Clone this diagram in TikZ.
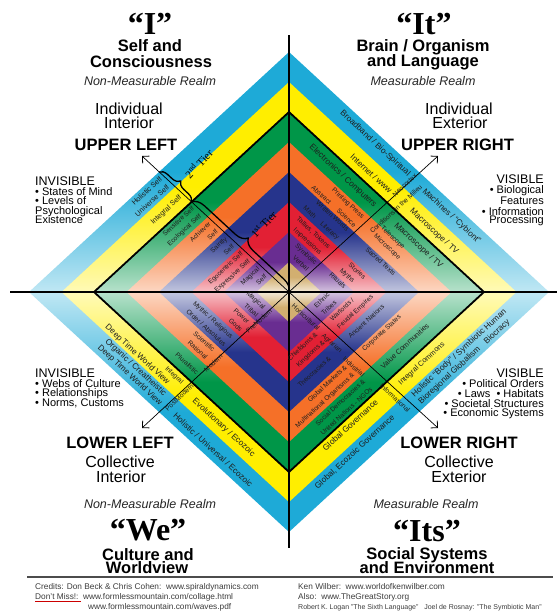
\documentclass[tikz,border=0pt]{standalone}
\usepackage{fontspec}
\setmainfont{Liberation Sans}
\newfontfamily\qfont{Liberation Serif}
\usetikzlibrary{calc,arrows.meta,decorations.pathreplacing}
\definecolor{cA}{RGB}{30,170,215}
\definecolor{cB}{RGB}{255,238,0}
\definecolor{cC}{RGB}{0,150,72}
\definecolor{cD}{RGB}{245,112,40}
\definecolor{cE}{RGB}{38,52,140}
\definecolor{cF}{RGB}{226,32,52}
\definecolor{cG}{RGB}{105,45,145}
\definecolor{cH}{RGB}{210,175,112}
\definecolor{txt}{RGB}{30,30,30}
\definecolor{credit}{RGB}{60,60,60}
\begin{document}
\begin{tikzpicture}[x=1pt,y=-1pt,
  qbig/.style={font=\qfont\bfseries\fontsize{32}{32}\selectfont, anchor=base, inner sep=0pt},
  ttl/.style={font=\bfseries\fontsize{16.5}{16.5}\selectfont, anchor=base, inner sep=0pt},
  realm/.style={font=\itshape\fontsize{12.5}{12.5}\selectfont, anchor=base, inner sep=0pt, text=black!85},
  qtxt/.style={font=\fontsize{16}{16}\selectfont, anchor=base, inner sep=0pt},
  sidetxt/.style={font=\fontsize{11}{11}\selectfont, inner sep=0pt},
  sidehead/.style={font=\fontsize{12.5}{12.5}\selectfont, inner sep=0pt},
  bl/.style={font=\fontsize{6.6}{10.5}\selectfont, text=txt, inner sep=0.5pt},
  bm/.style={font=\fontsize{7.3}{10.5}\selectfont, text=txt, inner sep=0.5pt},
  bL/.style={font=\fontsize{8.3}{10}\selectfont, text=txt, inner sep=0.5pt},
  rotp/.style={rotate=42.7},
  rotm/.style={rotate=-42.7},
  tierlbl/.style={font=\qfont\fontsize{11}{11}\selectfont, rotate=47.3, anchor=west, inner sep=1pt},
  cred/.style={font=\fontsize{8.3}{8.3}\selectfont, text=credit, anchor=base west, inner sep=0pt},
  axisline/.style={line width=2.6pt, black},
  diagarrow/.style={line width=0.7pt, black, -{Straight Barb[length=5pt,width=10pt,line width=0.8pt]}},
]
\useasboundingbox (0,0) rectangle (557,613);
\fill[white] (0,0) rectangle (557,613);
\coordinate (C) at (289,292);
\coordinate (L) at (29,292);
\coordinate (R) at (549,292);
\coordinate (T) at (289,52);
\coordinate (B) at (289,532);
\coordinate (DUL) at (159,172);
\coordinate (DUR) at (419,172);
\coordinate (DLL) at (159,412);
\coordinate (DLR) at (419,412);
% bands
\foreach \k/\col in {0/cA,1/cB,2/cC,3/cD,4/cE,5/cF,6/cG,7/cH}{
  \pgfmathsetmacro\s{1-\k/8}
  \shade[top color=\col, bottom color=\col!28!white, middle color=\col]
    ($(C)!\s!(L)$) -- ($(C)!\s!(T)$) -- ($(C)!\s!(R)$) -- cycle;
  \shade[top color=\col!28!white, bottom color=\col, middle color=\col]
    ($(C)!\s!(L)$) -- ($(C)!\s!(B)$) -- ($(C)!\s!(R)$) -- cycle;
}
% tier outline
\draw[line width=1.8pt] ($(C)!.75!(L)$) -- ($(C)!.75!(T)$) -- ($(C)!.75!(R)$) -- ($(C)!.75!(B)$) -- cycle;
% axes
\coordinate (HL) at (10,292); \coordinate (HR) at (557,292);
\coordinate (VT) at (289,35); \coordinate (VB) at (289,548);
\draw[axisline] (HL) -- (HR);
\draw[axisline] (VT) -- (VB);
% diagonal arrows
\coordinate (AUL) at (142,156); \coordinate (AUR) at (438,156);
\coordinate (ALL) at (142,428); \coordinate (ALR) at (438,428);
\draw[diagarrow] (C) -- (AUL);
\draw[diagarrow] (C) -- (AUR);
\draw[diagarrow] (C) -- (ALL);
\draw[diagarrow] (C) -- (ALR);
% tier braces
\coordinate (D2) at (159,172);
\coordinate (D3) at (191.5,202);
\draw[line width=1.3pt, decorate, decoration={brace, amplitude=8pt}] (D2) -- (D3);
\draw[line width=1.3pt, decorate, decoration={brace, amplitude=12pt}] (D3) -- (C);
\node[tierlbl] (t2) at (186,177) {2\textsuperscript{nd} Tier};
\node[tierlbl] (t1) at (252,237) {1\textsuperscript{st} Tier};

% ---------- UL band labels (end at diagonal)
\node[bm, rotp, anchor=east, align=right] (ul0) at ($(C)!0.9375!(DUL)+3*(-0.735,0.678)$) {Holistic Self\\Universe Self};
\node[bm, rotp, anchor=east] (ul1) at ($(C)!0.8125!(DUL)+3*(-0.735,0.678)$) {Integral Self};
\node[bl, rotp, anchor=east, align=right] (ul2) at ($(C)!0.6875!(DUL)+3*(-0.735,0.678)$) {Sensitive Self\\Ecological Self};
\node[bl, rotp, anchor=east, align=right] (ul3) at ($(C)!0.5625!(DUL)+3*(-0.735,0.678)$) {Achiever\\Self};
\node[bl, rotp, anchor=east, align=right] (ul4) at ($(C)!0.4375!(DUL)+3*(-0.735,0.678)$) {Saintly\\Self};
\node[bl, rotp, anchor=east, align=right] (ul5) at ($(C)!0.3125!(DUL)+3*(-0.735,0.678)$) {Egocentric Self\\Expressive Self};
\node[bl, rotp, anchor=east, align=right] (ul6) at ($(C)!0.1875!(DUL)+3*(-0.735,0.678)$) {Magical\\Self};

% ---------- UR band labels
\node[bL, rotm, anchor=east] (ur0a) at ($(C)!0.95!(DUR)-4*(0.735,0.678)$) {Broadband / Bio-Spiritual};
\node[bL, rotm, anchor=east] (ur1a) at ($(C)!0.81!(DUR)-4*(0.735,0.678)$) {Internet / www};
\node[bL, rotm, anchor=east] (ur2a) at ($(C)!0.69!(DUR)-4*(0.735,0.678)$) {Electronics / Computers};
\node[bl, rotm, anchor=east] (ur3a) at ($(C)!0.595!(DUR)-4*(0.735,0.678)$) {Printing Press};
\node[bl, rotm, anchor=east] (ur3c) at ($(C)!0.53!(DUR)-3*(0.735,0.678)$) {Abstract\quad\ \ Science};
\node[bl, rotm, anchor=east] (ur4a) at ($(C)!0.485!(DUR)-5*(0.735,0.678)$) {Written Words};
\node[bl, rotm, anchor=east] (ur4c) at ($(C)!0.41!(DUR)-5*(0.735,0.678)$) {Math\quad\ Literacy};
\node[bl, rotm, anchor=east] (ur5a) at ($(C)!0.34!(DUR)-5*(0.735,0.678)$) {Tallies, Tokens};
\node[bl, rotm, anchor=east] (ur5c) at ($(C)!0.28!(DUR)-6*(0.735,0.678)$) {Impressions};
\node[bl, rotm, anchor=east] (ur6a) at ($(C)!0.22!(DUR)-2*(0.735,0.678)$) {Symbolic};
\node[bl, rotm, anchor=east] (ur6c) at ($(C)!0.165!(DUR)-3*(0.735,0.678)$) {Verbal};
\node[bL, rotm, anchor=west] (ur0b) at ($(C)!0.94!(DUR)+16*(0.735,0.678)$) {Machines / “Cybiont”};
\node[bL, rotm, anchor=west] (ur1b) at ($(C)!0.81!(DUR)+22*(0.735,0.678)$) {Macroscope / TV};
\node[bL, rotm, anchor=west] (ur2b) at ($(C)!0.69!(DUR)+22*(0.735,0.678)$) {Macroscope / TV};
\node[bl, rotm, anchor=west] (ur3b) at ($(C)!0.625!(DUR)+15*(0.735,0.678)$) {Telescope};
\node[bl, rotm, anchor=west] (ur3d) at ($(C)!0.565!(DUR)+16*(0.735,0.678)$) {Microscope};
\node[bl, rotm, anchor=west] (ur4b) at ($(C)!0.48!(DUR)+20*(0.735,0.678)$) {Sacred Texts};
\node[bl, rotm, anchor=west] (ur5b) at ($(C)!0.35!(DUR)+20*(0.735,0.678)$) {Stories};
\node[bl, rotm, anchor=west] (ur5d) at ($(C)!0.29!(DUR)+18*(0.735,0.678)$) {Myths};
\node[bl, rotm, anchor=west] (ur6b) at ($(C)!0.235!(DUR)+14*(0.735,0.678)$) {Rituals};
\node[bl, rotp] (urd0) at ($(C)!0.89!(DUR)$) {Neocortex};
\node[bl, rotp] (urd1) at ($(C)!0.757!(DUR)+11.7*(0.735,0.678)$) {Conditions in the Milieu};

% ---------- LL band labels
\node[bl, rotm, anchor=east] (ll1a) at ($(C)!0.79!(DLL)-5*(0.735,0.678)$) {Integral};
\node[bL, rotm, anchor=east] (ll1b) at ($(C)!0.845!(DLL)-14*(0.735,0.678)$) {Deep Time World View};
\node[bL, rotm, anchor=east] (ll0a) at ($(C)!0.905!(DLL)-8*(0.735,0.678)$) {Organic / Creatheistic};
\node[bL, rotm, anchor=east] (ll0b) at ($(C)!0.96!(DLL)-4*(0.735,0.678)$) {Deep Time World View};
\node[bl, rotm, anchor=east] (ll2) at ($(C)!0.69!(DLL)-2*(0.735,0.678)$) {Pluralistic};
\node[bl, rotm, anchor=east, align=right] (ll3) at ($(C)!0.5625!(DLL)-7*(0.735,0.678)$) {Scientific\\Rational};
\node[bl, rotm, anchor=east, align=right] (ll4) at ($(C)!0.4375!(DLL)-4*(0.735,0.678)$) {Mythic / Religious\\Order / Absolutes};
\node[bl, rotm, anchor=east, align=right] (ll5) at ($(C)!0.3125!(DLL)-4*(0.735,0.678)$) {Power\\Gods};
\node[bl, rotm, anchor=east, align=right] (ll6) at ($(C)!0.19!(DLL)-4*(0.735,0.678)$) {Magical\\Tribal};
\node[bL, rotm, anchor=west] (ll0c) at ($(C)!0.95!(DLL)+12*(0.735,0.678)$) {Holistic / Universal / Ecozoic};
\node[bL, rotm, anchor=west] (ll1c) at ($(C)!0.817!(DLL)+14*(0.735,0.678)$) {Evolutionary / Ecozoic};
\node[bl, rotp] (lld1) at ($(C)!0.86!(DLL)+3*(0.735,0.678)$) {PostModern};
\node[bl, rotp] (lld2) at ($(C)!0.588!(DLL)+1*(0.735,0.678)$) {Modern};
\node[bl, rotp] (lld3) at ($(C)!0.236!(DLL)+1*(0.735,0.678)$) {PreModern};

% ---------- LR band labels
\node[bL, rotp, anchor=east] (lr0a) at ($(C)!0.92!(DLR)+20*(-0.735,0.678)$) {Global, Ecozoic Governance};
\node[bL, rotp, anchor=east] (lr1a) at ($(C)!0.79!(DLR)+20*(-0.735,0.678)$) {Global Governance};
\node[bl, rotp, anchor=east, align=right] (lr2a) at ($(C)!0.6875!(DLR)+14*(-0.735,0.678)$) {Social Democracies \&\\United Nations - NGOs};
\node[bl, rotp, anchor=east, align=right] (lr3a) at ($(C)!0.5625!(DLR)+16*(-0.735,0.678)$) {Global Markets \&\\Multinational Organisms \&};
\node[bl, rotp, anchor=east] (lr4a) at ($(C)!0.43!(DLR)+20*(-0.735,0.678)$) {Theocracies \&};
\node[bl, rotp, anchor=east, align=right] (lr5a) at ($(C)!0.3125!(DLR)+12*(-0.735,0.678)$) {Chiefdoms \&\\Kingdoms \&};
\node[bL, rotp, anchor=west, align=left] (lr0b) at ($(C)!0.9375!(DLR)+7*(0.735,-0.678)$) {Holistic “Body” / Symbiotic Human\\Bioregional Globalism\quad Biocracy};
\node[bm, rotp, anchor=west] (lr1b) at ($(C)!0.81!(DLR)+7*(0.735,-0.678)$) {Integral Commons};
\node[bm, rotp, anchor=west] (lr2b) at ($(C)!0.67!(DLR)+7*(0.735,-0.678)$) {Value Communities};
\node[bl, rotp, anchor=west] (lr3b) at ($(C)!0.53!(DLR)+7*(0.735,-0.678)$) {Corporate States};
\node[bl, rotp, anchor=west] (lr4b) at ($(C)!0.42!(DLR)+7*(0.735,-0.678)$) {Ancient Nations};
\node[bl, rotp, anchor=west, align=left] (lr5b) at ($(C)!0.31!(DLR)+7*(0.735,-0.678)$) {Warlords /\\Feudal Empires};
\node[bl, rotp, anchor=west, align=left] (lr6b) at ($(C)!0.19!(DLR)+6*(0.735,-0.678)$) {Ethnic\\Tribes};
\node[bl, rotm] (lrd1) at ($(C)!0.85!(DLR)+6*(-0.735,0.678)$) {Informational};
\node[bl, rotm] (lrd2) at ($(C)!0.56!(DLR)+11*(-0.735,0.678)$) {Industrial};
\node[bl, rotm] (lrd3) at ($(C)!0.38!(DLR)+9*(-0.735,0.678)$) {Agrarian};
\node[bl, rotm] (lrd4) at ($(C)!0.17!(DLR)+7*(-0.735,0.678)$) {Horticultural};

% ---------- titles UL
\node[qbig] (qI) at (150,34) {“I”};
\node[ttl] (ul-t1) at (150,51.5) {Self and};
\node[ttl] (ul-t2) at (151,67) {Consciousness};
\node[realm] (ul-r) at (150,85) {Non-Measurable Realm};
\node[qtxt] (ul-q1) at (129,114) {Individual};
\node[qtxt] (ul-q2) at (129,128) {Interior};
\node[ttl] (ul-c) at (126,150) {UPPER LEFT};
\node[sidehead, anchor=base west] (ul-s0) at (35,185) {INVISIBLE};
\node[sidetxt, anchor=base west] (ul-s1) at (35,195) {• States of Mind};
\node[sidetxt, anchor=base west] (ul-s2) at (35,204.5) {• Levels of};
\node[sidetxt, anchor=base west] (ul-s3) at (35,214) {Psychological};
\node[sidetxt, anchor=base west] (ul-s4) at (35,223.5) {Existence};
% titles UR
\node[qbig] (qIt) at (424,34) {“It”};
\node[ttl] (ur-t1) at (423,51) {Brain / Organism};
\node[ttl] (ur-t2) at (423,66) {and Language};
\node[realm] (ur-r) at (423,85) {Measurable Realm};
\node[qtxt] (ur-q1) at (459,114) {Individual};
\node[qtxt] (ur-q2) at (460,128) {Exterior};
\node[ttl] (ur-c) at (457.5,150) {UPPER RIGHT};
\node[sidehead, anchor=base east] (ur-s0) at (544,183) {VISIBLE};
\node[sidetxt, anchor=base east] (ur-s1) at (544,193.5) {• Biological};
\node[sidetxt, anchor=base east] (ur-s2) at (544,204.5) {Features};
\node[sidetxt, anchor=base east] (ur-s3) at (544,215) {• Information};
\node[sidetxt, anchor=base east] (ur-s4) at (544,223) {Processing};
% titles LL
\node[sidehead, anchor=base west] (ll-s0) at (35,377) {INVISIBLE};
\node[sidetxt, anchor=base west] (ll-s1) at (35,387) {• Webs of Culture};
\node[sidetxt, anchor=base west] (ll-s2) at (35,396.5) {• Relationships};
\node[sidetxt, anchor=base west] (ll-s3) at (35,406) {• Norms, Customs};
\node[ttl] (ll-c) at (120,448) {LOWER LEFT};
\node[qtxt] (ll-q1) at (120,467) {Collective};
\node[qtxt] (ll-q2) at (121,482) {Interior};
\node[realm] (ll-r) at (150,508) {Non-Measurable Realm};
\node[qbig] (qWe) at (148,540) {“We”};
\node[ttl] (ll-t1) at (148,560) {Culture and};
\node[ttl] (ll-t2) at (147,573) {Worldview};
% titles LR
\node[sidehead, anchor=base east] (lr-s0) at (544,377) {VISIBLE};
\node[sidetxt, anchor=base east] (lr-s1) at (544,387) {• Political Orders};
\node[sidetxt, anchor=base east] (lr-s2) at (544,397) {• Laws\ \ • Habitats};
\node[sidetxt, anchor=base east] (lr-s3) at (544,407) {• Societal Structures};
\node[sidetxt, anchor=base east] (lr-s4) at (544,416.5) {• Economic Systems};
\node[ttl] (lr-c) at (459,448) {LOWER RIGHT};
\node[qtxt] (lr-q1) at (459,467) {Collective};
\node[qtxt] (lr-q2) at (459,482) {Exterior};
\node[realm] (lr-r) at (426,508) {Measurable Realm};
\node[qbig] (qIts) at (427,541) {“Its”};
\node[ttl] (lr-t1) at (427,559) {Social Systems};
\node[ttl] (lr-t2) at (427,573) {and Environment};
% footer
\coordinate (RL) at (27,577); \coordinate (RR) at (553,577);
\draw[black!70, line width=1.2pt] (RL) -- (RR);
\node[cred] (cr1) at (35,589) {Credits: Don Beck \& Chris Cohen:\ \ www.spiraldynamics.com};
\node[cred] (cr2) at (35,599) {Don't Miss!:\ \ www.formlessmountain.com/collage.html};
\node[cred] (cr3) at (88,609) {www.formlessmountain.com/waves.pdf};
\coordinate (U1) at (35,601); \coordinate (U2) at (81,601);
\draw[red!80!black, line width=0.7pt] (U1) -- (U2);
\node[cred] (cr4) at (298,589) {Ken Wilber:\ \ www.worldofkenwilber.com};
\node[cred] (cr5) at (298,599) {Also:\ \ www.TheGreatStory.org};
\node[cred, font=\fontsize{7}{7}\selectfont] (cr6) at (298,609) {Robert K. Logan "The Sixth Language"\ \ \ Joel de Rosnay: "The Symbiotic Man"};
\end{tikzpicture}
\end{document}
